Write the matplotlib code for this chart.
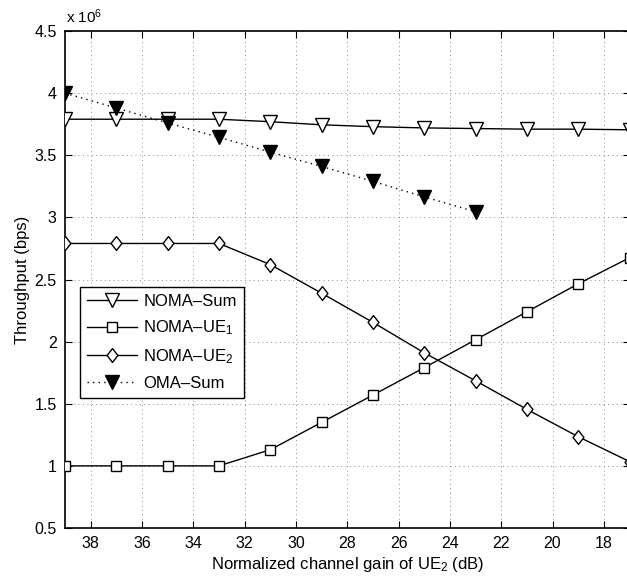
import matplotlib
matplotlib.use("Agg")
import matplotlib.pyplot as plt
import numpy as np

# ---- data (throughput in units of 1e6 bps) ----
gain_db = [39, 37, 35, 33, 31, 29, 27, 25, 23, 21, 19, 17]
noma_sum = [3.79, 3.79, 3.79, 3.79, 3.77, 3.745, 3.73, 3.72, 3.715, 3.71, 3.71, 3.705]
noma_ue1 = [1.0, 1.0, 1.0, 1.0, 1.13, 1.35, 1.57, 1.79, 2.015, 2.24, 2.465, 2.675]
noma_ue2 = [2.79, 2.79, 2.79, 2.79, 2.62, 2.39, 2.155, 1.91, 1.685, 1.455, 1.235, 1.035]
oma_gain_db = [39, 37, 35, 33, 31, 29, 27, 25, 23]
oma_sum = [4.0, 3.88, 3.76, 3.645, 3.525, 3.41, 3.29, 3.165, 3.045]

xticks = [38, 36, 34, 32, 30, 28, 26, 24, 22, 20, 18]
yticks = [0.5, 1, 1.5, 2, 2.5, 3, 3.5, 4, 4.5]
ytick_labels = ["0.5", "1", "1.5", "2", "2.5", "3", "3.5", "4", "4.5"]

plt.rcParams['font.family'] = ['Liberation Sans', 'DejaVu Sans']
plt.rcParams['mathtext.fontset'] = 'custom'
plt.rcParams['mathtext.rm'] = 'Liberation Sans'
plt.rcParams['mathtext.it'] = 'Liberation Sans:italic'
plt.rcParams['mathtext.bf'] = 'Liberation Sans:bold'

fig = plt.figure(figsize=(6.27, 5.78), dpi=100)
ax = fig.add_axes([65 / 627, 1 - 528 / 578, 564.5 / 627, 497 / 578])

diamond = [(0, 1), (0.78, 0), (0, -1), (-0.78, 0), (0, 1)]

lw = 1.0
ax.plot(gain_db, noma_sum, color='black', lw=lw, marker='v', ms=9.5,
        mfc='white', mec='black', mew=1.0, label='NOMA–Sum', zorder=3)
ax.plot(gain_db, noma_ue1, color='black', lw=lw, marker='s', ms=7,
        mfc='white', mec='black', mew=1.0, label='NOMA–UE$_1$', zorder=3)
ax.plot(gain_db, noma_ue2, color='black', lw=lw, marker=diamond, ms=10,
        mfc='white', mec='black', mew=1.0, label='NOMA–UE$_2$', zorder=3)
ax.plot(oma_gain_db, oma_sum, color='black', lw=1.0, ls=(0, (1, 3)),
        marker='v', ms=9.5, mfc='black', mec='black',
        label='OMA–Sum', zorder=3)

ax.set_xlim(39, 17)
ax.set_ylim(0.5, 4.5)
ax.set_xticks(xticks)
ax.set_xticklabels([str(t) for t in xticks])
ax.set_yticks(yticks)
ax.set_yticklabels(ytick_labels)

ax.grid(True, color='#8a8a8a', ls=(0, (1, 3.5)), lw=0.7)
ax.tick_params(direction='in', top=True, right=True, length=5, width=0.8,
               labelsize=11.5, pad=6)
for s in ax.spines.values():
    s.set_linewidth(1.2)

ax.set_xlabel('Normalized channel gain of UE$_2$ (dB)', fontsize=12, labelpad=3)
ax.set_ylabel('Throughput (bps)', fontsize=12, labelpad=3)

ax.text(0.002, 1.010, 'x 10$^{6}$', transform=ax.transAxes, fontsize=11,
        ha='left', va='bottom')

leg = ax.legend(loc='upper left', bbox_to_anchor=(0.0266, 0.485),
                borderaxespad=0, fancybox=False, edgecolor='black',
                framealpha=1, fontsize=12, handlelength=3.0,
                handletextpad=0.4, labelspacing=0.6, borderpad=0.4)
leg.get_frame().set_linewidth(1.0)

fig.savefig('out.png', dpi=100)
